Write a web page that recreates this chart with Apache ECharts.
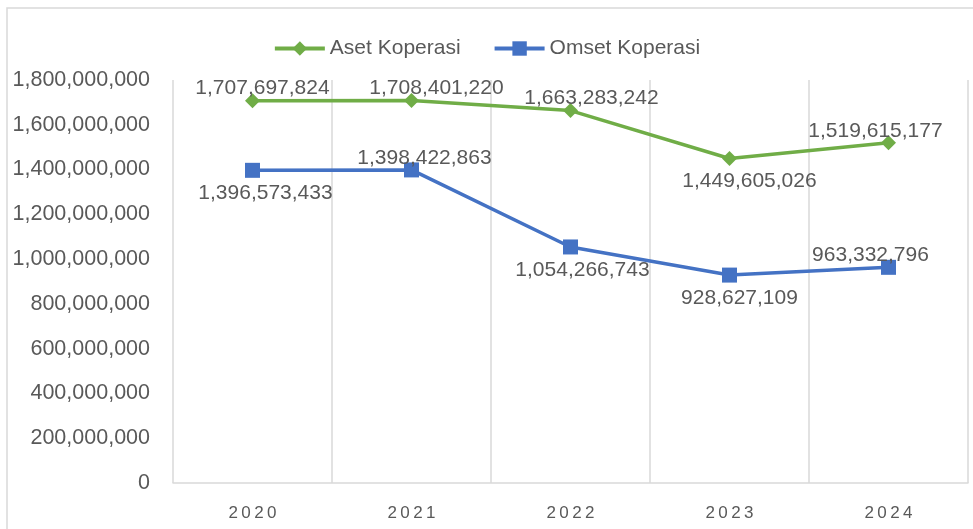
<!DOCTYPE html>
<html>
<head>
<meta charset="utf-8">
<script src="https://cdn.jsdelivr.net/npm/echarts@6/dist/echarts.min.js"></script>
<style>
  html, body { margin: 0; padding: 0; background: #fff; }
  #chart { width: 973px; height: 529px; }
</style>
</head>
<body>
<div id="chart"></div>
<script>
// data
const years = ["2020", "2021", "2022", "2023", "2024"];
const asetKoperasi = [1707697824, 1708401220, 1663283242, 1449605026, 1519615177];
const omsetKoperasi = [1396573433, 1398422863, 1054266743, 928627109, 963332796];

// label placement (style only)
const asetLabelPos = ["top", "top", "top", "bottom", "top"];
const asetLabelDx = [10, 25, 21, 20, -13];
const omsetLabelPos = ["bottom", "top", "bottom", "bottom", "top"];
const omsetLabelDx = [13, 13, 12, 10, -18];

const fmt = v => Number(v).toLocaleString("en-US");
const FONT = "Liberation Sans";

let chart = echarts.init(document.getElementById("chart"));

function labelFor(pos, dx) {
  return {
    position: pos,
    distance: pos === "top" ? -6 : 5,
    offset: [dx, 0]
  };
}

let option = {
  animation: false,
  textStyle: { fontFamily: FONT },
  graphic: [{
    type: "rect",
    shape: { x: 7, y: 8, width: 980, height: 540 },
    style: { fill: "none", stroke: "#d9d9d9", lineWidth: 1.5 },
    silent: true
  }],
  legend: {
    top: 33,
    left: "center",
    itemGap: 32,
    itemWidth: 50,
    itemHeight: 18,
    lineStyle: { width: 4 },
    textStyle: { color: "#595959", fontSize: 21, fontFamily: FONT },
    data: ["Aset Koperasi", "Omset Koperasi"]
  },
  grid: { left: 173, right: 5, top: 80, bottom: 46 },
  xAxis: {
    type: "category",
    data: years,
    boundaryGap: true,
    axisLine: { lineStyle: { color: "#d9d9d9", width: 1.5 } },
    axisTick: { show: false },
    splitLine: { show: true, lineStyle: { color: "#d9d9d9", width: 1.5 } },
    axisLabel: {
      color: "#595959",
      fontSize: 17,
      margin: 22,
      formatter: v => v.split("").join("\u2009")
    }
  },
  yAxis: {
    type: "value",
    min: 0,
    max: 1800000000,
    interval: 200000000,
    axisLine: { show: false },
    axisTick: { show: false },
    splitLine: { show: false },
    axisLabel: { color: "#595959", fontSize: 21.5, margin: 23, formatter: fmt }
  },
  series: [
    {
      name: "Aset Koperasi",
      type: "line",
      data: asetKoperasi.map((v, i) => ({
        value: v,
        label: labelFor(asetLabelPos[i], asetLabelDx[i])
      })),
      symbol: "diamond",
      symbolSize: 15,
      lineStyle: { color: "#70AD47", width: 3.5 },
      itemStyle: { color: "#70AD47" },
      label: { show: true, color: "#595959", fontSize: 21, formatter: p => fmt(p.value) }
    },
    {
      name: "Omset Koperasi",
      type: "line",
      data: omsetKoperasi.map((v, i) => ({
        value: v,
        label: labelFor(omsetLabelPos[i], omsetLabelDx[i])
      })),
      symbol: "rect",
      symbolSize: 15,
      lineStyle: { color: "#4472C4", width: 3.5 },
      itemStyle: { color: "#4472C4" },
      label: { show: true, color: "#595959", fontSize: 21, formatter: p => fmt(p.value) }
    }
  ]
};

chart.setOption(option);
</script>
</body>
</html>
